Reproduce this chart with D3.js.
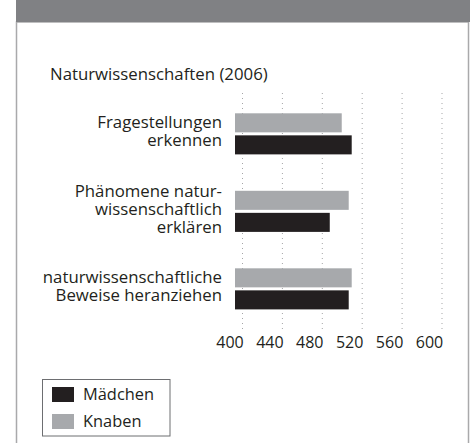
<!DOCTYPE html>
<html>
<head>
<meta charset="utf-8">
<script src="https://cdn.jsdelivr.net/npm/d3@7"></script>
<style>
  body { margin: 0; background: #fff; }
  svg text { font-family: "Open Sans", sans-serif; fill: #231f20; }
</style>
</head>
<body>
<svg id="chart" width="475" height="443"></svg>
<script>
const categories = [
  ["Fragestellungen", "erkennen"],
  ["Phänomene natur-", "wissenschaftlich", "erklären"],
  ["naturwissenschaftliche", "Beweise heranziehen"]
];
const series = ["Knaben", "Mädchen"];
const knaben = [507, 514, 517];
const maedchen = [517, 495, 514];
const ticks = [400, 440, 480, 520, 560, 600];
const colors = { "Mädchen": "#231f20", "Knaben": "#a7a9ac" };

const svg = d3.select("#chart");

// frame + header band
svg.append("rect").attr("x", 16.5).attr("y", 22).attr("width", 452).attr("height", 440)
  .attr("fill", "#fff").attr("stroke", "#a9a9ab").attr("stroke-width", 1.5);
svg.append("rect").attr("x", 16).attr("y", 0).attr("width", 454).attr("height", 22)
  .attr("fill", "#808184");

svg.append("text")
  .attr("x", 50).attr("y", 80)
  .style("font-size", "16.8px")
  .text("Naturwissenschaften (2006)");

const x = d3.scaleLinear().domain([400, 600]).range([235, 434.5]);

const y = d3.scaleBand()
  .domain(d3.range(categories.length))
  .range([93, 329.7])
  .paddingInner(0.47)
  .paddingOuter(0.262);

const yInner = d3.scaleBand()
  .domain(series)
  .range([0, y.bandwidth()])
  .paddingInner(0.136);

// dotted grid (sits a little right of the value positions in the original)
svg.append("g").selectAll("line")
  .data(ticks)
  .enter().append("line")
  .attr("x1", d => x(d) + 7.5)
  .attr("x2", d => x(d) + 7.5)
  .attr("y1", 93)
  .attr("y2", 331)
  .attr("stroke", "#a5a5a7")
  .attr("stroke-width", 1)
  .attr("stroke-dasharray", "1,4");

const rows = categories.map((c, i) => ({ i, label: c, Knaben: knaben[i], "Mädchen": maedchen[i] }));

const groups = svg.append("g").selectAll("g")
  .data(rows)
  .enter().append("g")
  .attr("transform", d => `translate(0,${y(d.i)})`);

groups.selectAll("rect")
  .data(d => series.map(s => ({ s, v: d[s] })))
  .enter().append("rect")
  .attr("x", x(400))
  .attr("y", d => yInner(d.s))
  .attr("width", d => x(d.v) - x(400))
  .attr("height", yInner.bandwidth())
  .attr("fill", d => colors[d.s]);

// category labels, one text block per category, centred on its pair of bars
const lineH = 18;
groups.each(function(d) {
  const n = d.label.length;
  const mid = y.bandwidth() / 2;
  const txt = d3.select(this).append("text")
    .attr("class", "cat")
    .attr("text-anchor", "end")
    .style("font-size", "16.8px");
  txt.selectAll("tspan")
    .data(d.label)
    .enter().append("tspan")
    .attr("x", 222)
    .attr("y", (t, k) => mid + (k - (n - 1) / 2) * lineH + 3.5)
    .text(t => t);
});

// tick labels
svg.append("g").selectAll("text")
  .data(ticks)
  .enter().append("text")
  .attr("x", d => x(d) - 5)
  .attr("y", 348)
  .attr("text-anchor", "middle")
  .style("font-size", "16px")
  .text(d => d);

// legend
const legend = svg.append("g");
legend.append("rect")
  .attr("x", 42.5).attr("y", 379.5).attr("width", 127.5).attr("height", 56.5)
  .attr("fill", "#fff").attr("stroke", "#6d6e71").attr("stroke-width", 1);

const legendItems = ["Mädchen", "Knaben"];
legend.selectAll("rect.sw")
  .data(legendItems)
  .enter().append("rect")
  .attr("class", "sw")
  .attr("x", 52)
  .attr("y", (d, i) => 387 + i * 27)
  .attr("width", 22)
  .attr("height", 15)
  .attr("fill", d => colors[d]);

legend.selectAll("text")
  .data(legendItems)
  .enter().append("text")
  .attr("x", 83)
  .attr("y", (d, i) => 400 + i * 27)
  .style("font-size", "16.4px")
  .text(d => d);
</script>
</body>
</html>
